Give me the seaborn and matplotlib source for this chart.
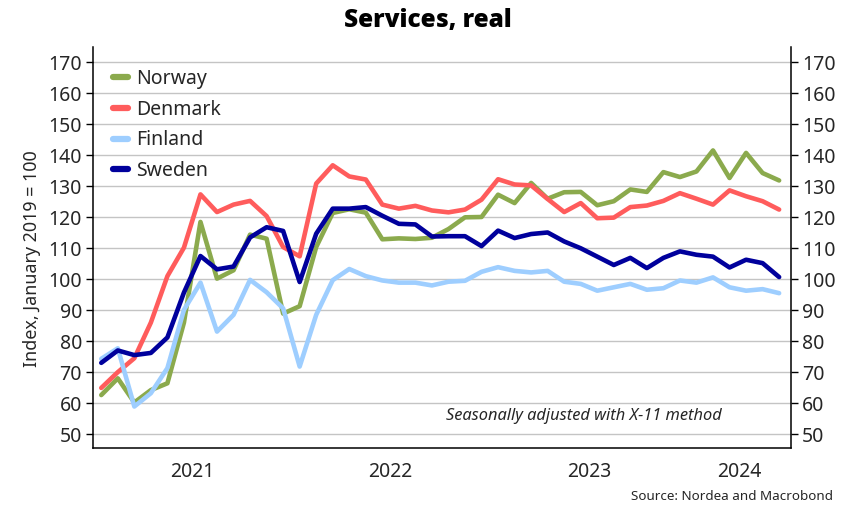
import numpy as np
import pandas as pd
import matplotlib
matplotlib.use("Agg")
import matplotlib.pyplot as plt
import seaborn as sns
from matplotlib.lines import Line2D

# Monthly service volumes, index Jan 2019 = 100 (Jan 2021 - Jun 2024)
months = pd.period_range("2021-01", "2024-06", freq="M")
countries = ["Norway", "Denmark", "Finland", "Sweden"]
colors = ["#8BAA4D", "#FF5C5C", "#9ECEFF", "#00009C"]

norway = [62.6, 68.0, 60.2, 64.2, 66.4, 86.0, 118.5, 100.2, 102.9, 114.4, 113.1, 88.9,
          91.3, 110.4, 121.4, 122.6, 121.5, 112.9, 113.2, 113.0, 113.4, 116.2, 120.0, 120.1,
          127.3, 124.6, 131.1, 126.0, 128.1, 128.2, 123.9, 125.2, 129.0, 128.2, 134.6, 133.0,
          134.8, 141.6, 132.7, 140.8, 134.3, 131.9]
denmark = [64.9, 70.0, 74.5, 86.0, 101.0, 110.2, 127.4, 121.7, 124.1, 125.3, 120.4, 110.4,
           107.4, 130.9, 136.8, 133.2, 132.2, 124.1, 122.8, 123.7, 122.2, 121.6, 122.5, 125.7,
           132.3, 130.6, 130.3, 125.9, 121.7, 124.6, 119.7, 119.9, 123.3, 123.8, 125.3, 127.8,
           126.0, 124.1, 128.7, 126.8, 125.2, 122.5]
finland = [74.3, 77.7, 58.9, 63.2, 71.3, 90.1, 98.9, 83.1, 88.5, 99.8, 95.8, 90.6,
           71.8, 88.5, 99.7, 103.3, 101.0, 99.6, 98.9, 98.9, 98.0, 99.2, 99.5, 102.4,
           103.9, 102.7, 102.2, 102.7, 99.2, 98.5, 96.3, 97.4, 98.5, 96.6, 97.1, 99.6,
           98.9, 100.6, 97.4, 96.3, 96.8, 95.5]
sweden = [73.0, 77.0, 75.5, 76.2, 81.2, 95.7, 107.5, 103.2, 104.1, 113.5, 116.8, 115.6,
          99.1, 114.7, 122.8, 122.8, 123.3, 120.5, 117.9, 117.7, 113.8, 113.9, 113.9, 110.7,
          115.7, 113.3, 114.6, 115.1, 112.2, 110.0, 107.3, 104.6, 106.9, 103.6, 106.9, 109.0,
          107.9, 107.3, 103.8, 106.3, 105.2, 100.7]

y_ticks = list(range(50, 171, 10))

sns.set_theme(style="white")
plt.rcParams["font.family"] = ["Noto Sans", "DejaVu Sans"]

t = np.arange(len(months))
wide = pd.DataFrame({"t": t, "Norway": norway, "Denmark": denmark,
                     "Finland": finland, "Sweden": sweden})
long = wide.melt(id_vars="t", var_name="country", value_name="value")

fig = plt.figure(figsize=(8.46, 5.09), dpi=100)
ax = fig.add_axes([93 / 846, 1 - 448 / 509, (790.7 - 93) / 846, (448 - 47) / 509])

sns.lineplot(data=long, x="t", y="value", hue="country", hue_order=countries,
             palette=colors, linewidth=3.3, ax=ax, legend=False)

xmin, xmax = -0.5, 41.7
ax.set_xlim(xmin, xmax)
ax.set_ylim(45.5, 175)

# year boundaries as ticks, year names centred in between
years = sorted(set(p.year for p in months))
bounds = [int(np.where((months.year == y) & (months.month == 1))[0][0]) - 0.5 for y in years]
edges = bounds + [xmax]
centers = [(edges[i] + edges[i + 1]) / 2 for i in range(len(years))]
ax.set_xticks(bounds)
ax.set_xticklabels([])
ax.set_xticks(centers, minor=True)
ax.set_xticklabels([str(y) for y in years], minor=True, fontsize=14)
ax.tick_params(axis="x", which="major", length=6, width=1, color="black", direction="out")
ax.tick_params(axis="x", which="minor", length=0, pad=10)
ax.set_xlabel("")
ax.set_ylabel("")

ax.set_yticks(y_ticks)
ax.tick_params(axis="y", length=5, width=1, color="black", direction="out", pad=3,
               labelsize=14)
ax.yaxis.grid(True, color="#C4C4C4", linewidth=1)
ax.set_axisbelow(True)

ax2 = ax.twinx()
ax2.set_ylim(ax.get_ylim())
ax2.set_yticks(y_ticks)
ax2.tick_params(axis="y", length=5, width=1, color="black", direction="out", pad=3,
                labelsize=14)
for a in (ax, ax2):
    a.spines["top"].set_visible(False)
    for s in ("left", "right", "bottom"):
        a.spines[s].set_color("black")
        a.spines[s].set_linewidth(1.1)
ax.spines["right"].set_visible(False)
ax2.spines["left"].set_visible(False)
ax2.spines["bottom"].set_visible(False)

handles = [Line2D([0], [0], color=c, lw=4.5) for c in colors]
ax.legend(handles, countries, loc="upper left", bbox_to_anchor=(-0.008, 1.008),
          frameon=False, fontsize=14, handlelength=0.8, handletextpad=0.4,
          labelspacing=0.55, borderaxespad=0.9)

fig.text(0.5 + 5 / 846, 1 - 20 / 509, "Services, real", ha="center", va="center",
         fontsize=17.6, fontweight="heavy", color="black",
         family=["Open Sans", "DejaVu Sans"])
fig.text(32 / 846, 1 - 259 / 509, "Index, January 2019 = 100", rotation=90,
         ha="center", va="center", fontsize=12.9)
fig.text(722 / 846, 1 - 416 / 509, "Seasonally adjusted with X-11 method",
         ha="right", va="center", fontsize=11.8, style="italic")
fig.text(833 / 846, 1 - 497 / 509, "Source: Nordea and Macrobond",
         ha="right", va="center", fontsize=9.7)

fig.savefig("out.png", dpi=100)
